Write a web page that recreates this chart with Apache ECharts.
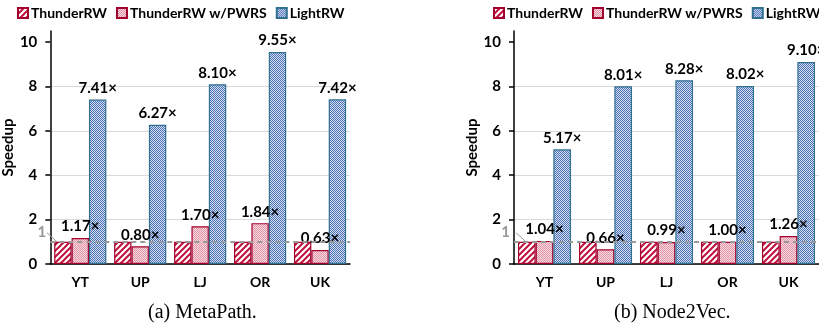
<!DOCTYPE html>
<html>
<head>
<meta charset="utf-8">
<script src="https://cdn.jsdelivr.net/npm/echarts@6/dist/echarts.min.js"></script>
<style>
  html, body { margin: 0; padding: 0; background: #fff; }
  #chart { width: 819px; height: 333px; }
</style>
</head>
<body>
<div id="chart"></div>
<script>
// Datasets on the x axis and the speedup tick values
const categories = ['YT', 'UP', 'LJ', 'OR', 'UK'];
const yTicks = [0, 2, 4, 6, 8, 10];
const seriesNames = ['ThunderRW', 'ThunderRW w/PWRS', 'LightRW'];

// (a) MetaPath speedups
const metaThunderRW = [1, 1, 1, 1, 1];
const metaPWRS = [1.17, 0.80, 1.70, 1.84, 0.63];
const metaLightRW = [7.41, 6.27, 8.10, 9.55, 7.42];

// (b) Node2Vec speedups
const n2vThunderRW = [1, 1, 1, 1, 1];
const n2vPWRS = [1.04, 0.66, 0.99, 1.00, 1.26];
const n2vLightRW = [5.17, 8.01, 8.28, 8.02, 9.10];

const baseline = 1;

const FONT = 'Lato, "Open Sans", sans-serif';

// Fill patterns for the three bar styles
function hatchPattern() {
  const c = document.createElement('canvas');
  c.width = 6; c.height = 6;
  const g = c.getContext('2d');
  g.fillStyle = '#ffffff'; g.fillRect(0, 0, 6, 6);
  g.strokeStyle = '#c0103e'; g.lineWidth = 2;
  g.beginPath();
  g.moveTo(-1, 7); g.lineTo(7, -1);
  g.moveTo(-4, 4); g.lineTo(4, -4);
  g.moveTo(2, 10); g.lineTo(10, 2);
  g.stroke();
  return { image: c, repeat: 'repeat' };
}
function pinkDots() {
  const c = document.createElement('canvas');
  c.width = 2; c.height = 2;
  const g = c.getContext('2d');
  g.fillStyle = '#f9d9e0'; g.fillRect(0, 0, 2, 2);
  g.fillStyle = '#e096a8'; g.fillRect(0, 0, 1, 1); g.fillRect(1, 1, 1, 1);
  return { image: c, repeat: 'repeat' };
}
function blueDots() {
  const c = document.createElement('canvas');
  c.width = 2; c.height = 2;
  const g = c.getContext('2d');
  g.fillStyle = '#d6e0f3'; g.fillRect(0, 0, 2, 2);
  g.fillStyle = '#4c70b6'; g.fillRect(0, 0, 1, 1); g.fillRect(1, 1, 1, 1);
  return { image: c, repeat: 'repeat' };
}
const fills = [hatchPattern(), pinkDots(), blueDots()];
const borders = ['#a3002c', '#a3002c', '#2f6f8f'];

const chart = echarts.init(document.getElementById('chart'), null, { renderer: 'canvas' });

const grids = [
  { left: 45, top: 31, width: 305, height: 233 },
  { left: 514, top: 31, width: 305, height: 233 }
];

function xAxis(i) {
  return {
    type: 'category', gridIndex: i, data: categories,
    axisLine: { lineStyle: { color: '#000', width: 1.5 } },
    axisTick: { show: false },
    axisLabel: { color: '#000', fontFamily: FONT, fontWeight: 'bold', fontSize: 14, margin: 11 }
  };
}
function yAxis(i) {
  return {
    type: 'value', gridIndex: i, min: 0, max: 10.5, interval: 2,
    name: 'Speedup', nameLocation: 'middle', nameGap: 29,
    nameTextStyle: { color: '#000', fontFamily: FONT, fontWeight: 'bold', fontSize: 15 },
    axisLine: { show: true, lineStyle: { color: '#000', width: 1.5 } },
    axisTick: { show: true, length: 5, customValues: yTicks, lineStyle: { color: '#000', width: 1.5 } },
    axisLabel: { color: '#000', fontFamily: FONT, fontWeight: 'bold', fontSize: 15, margin: 13, customValues: yTicks },
    splitLine: { show: true, showMaxLine: false, lineStyle: { color: '#d9d9d9', width: 1 } }
  };
}

function barSeries(k, grid, data, withLabel, withBaseline) {
  const s = {
    name: seriesNames[k], type: 'bar', xAxisIndex: grid, yAxisIndex: grid,
    data: data, barGap: '0%', barCategoryGap: '13%',
    itemStyle: { color: fills[k], borderColor: borders[k], borderWidth: 1.2 },
    label: {
      show: withLabel, position: 'top', distance: 4, color: '#000',
      fontFamily: FONT, fontWeight: 'bold', fontSize: 15,
      formatter: p => p.value.toFixed(2) + '\u00d7'
    },
    emphasis: { disabled: true },
    animation: false
  };
  if (withBaseline) {
    s.markLine = {
      silent: true, symbol: 'none', z: 10,
      lineStyle: { color: '#999', type: [5, 4], width: 2 },
      label: {
        show: true, position: 'start', distance: 4, offset: [0, -10],
        formatter: String(baseline), color: '#999',
        fontFamily: FONT, fontWeight: 'bold', fontSize: 15
      },
      data: [{ yAxis: baseline }]
    };
  }
  return s;
}

function legend(left) {
  return {
    left: left, top: 1, width: 340, icon: 'rect', itemWidth: 10, itemHeight: 10, itemGap: 9,
    selectedMode: false, data: seriesNames,
    textStyle: { color: '#000', fontFamily: FONT, fontWeight: 'bold', fontSize: 14, padding: [0, 0, 0, -2] }
  };
}

const option = {
  backgroundColor: '#fff',
  animation: false,
  legend: [legend(12), legend(488)],
  grid: grids,
  xAxis: [xAxis(0), xAxis(1)],
  yAxis: [yAxis(0), yAxis(1)],
  series: [
    barSeries(0, 0, metaThunderRW, false, true),
    barSeries(1, 0, metaPWRS, true, false),
    barSeries(2, 0, metaLightRW, true, false),
    barSeries(0, 1, n2vThunderRW, false, true),
    barSeries(1, 1, n2vPWRS, true, false),
    barSeries(2, 1, n2vLightRW, true, false)
  ]
};
chart.setOption(option);

// Captions and the short leader line from the "1" tag to the baseline
function leader(gridIdx) {
  const g = grids[gridIdx];
  const y = chart.convertToPixel({ yAxisIndex: gridIdx }, baseline);
  return {
    type: 'line', silent: true, z: 20,
    shape: { x1: g.left + 2, y1: y - 9, x2: g.left + 12, y2: y },
    style: { stroke: '#999', lineWidth: 1 }
  };
}
chart.setOption({
  graphic: [
    leader(0), leader(1),
    { type: 'text', left: 148, top: 303, silent: true,
      style: { text: '(a) MetaPath.', font: '20px "Liberation Serif", serif', fill: '#000' } },
    { type: 'text', left: 614, top: 303, silent: true,
      style: { text: '(b) Node2Vec.', font: '20px "Liberation Serif", serif', fill: '#000' } }
  ]
});
</script>
</body>
</html>
